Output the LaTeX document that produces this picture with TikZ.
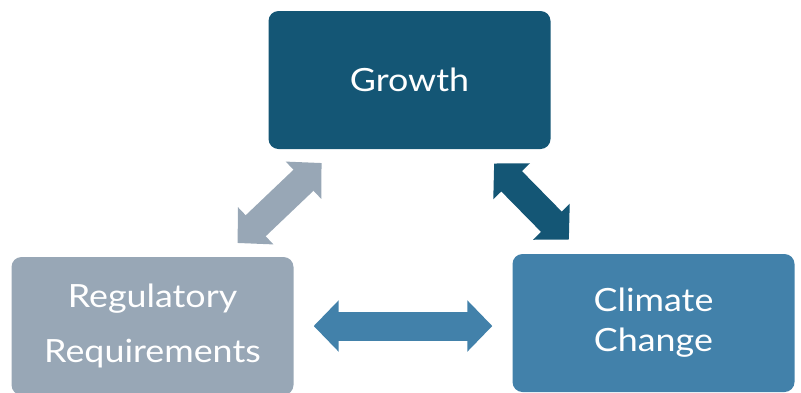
\documentclass[tikz,border=0pt]{standalone}
\usepackage{fontspec}
\setmainfont[FakeStretch=1.12]{Lato}
\usetikzlibrary{arrows.meta,calc}

\definecolor{growthblue}{HTML}{145675}
\definecolor{reggray}{HTML}{98A7B6}
\definecolor{climblue}{HTML}{4281AA}

\tikzset{
  box/.style={rectangle, rounded corners=10pt, minimum width=282pt,
    minimum height=138pt, text=white, align=center,
    font=\fontsize{32}{40}\selectfont},
  link/.style={line width=29pt,
    {Triangle[width=50pt,length=25pt]}-{Triangle[width=50pt,length=25pt]},
    shorten <=20pt, shorten >=20pt}
}

\begin{document}
\begin{tikzpicture}[x=1pt,y=-1pt]
        \useasboundingbox (0,0) rectangle (801,392);

        \node[box,fill=growthblue] (growth) at (409.5,80) {Growth};
        \node[box,fill=reggray] (reg) at (152.5,326) {Regulatory\\[15pt]Requirements};
        \node[box,fill=climblue] (clim) at (653.5,323) {Climate\\Change};

        \draw[link,reggray] ($(reg.north west)!0.75!(reg.north east)$)
          -- ($(growth.south west)!0.24!(growth.south east)$);
        \draw[link,growthblue] ($(growth.south west)!0.75!(growth.south east)$)
          -- ($(clim.north west)!0.25!(clim.north east)$);
        \draw[link,climblue] (reg.east) -- (reg.east -| clim.west);
      \end{tikzpicture}
\end{document}
